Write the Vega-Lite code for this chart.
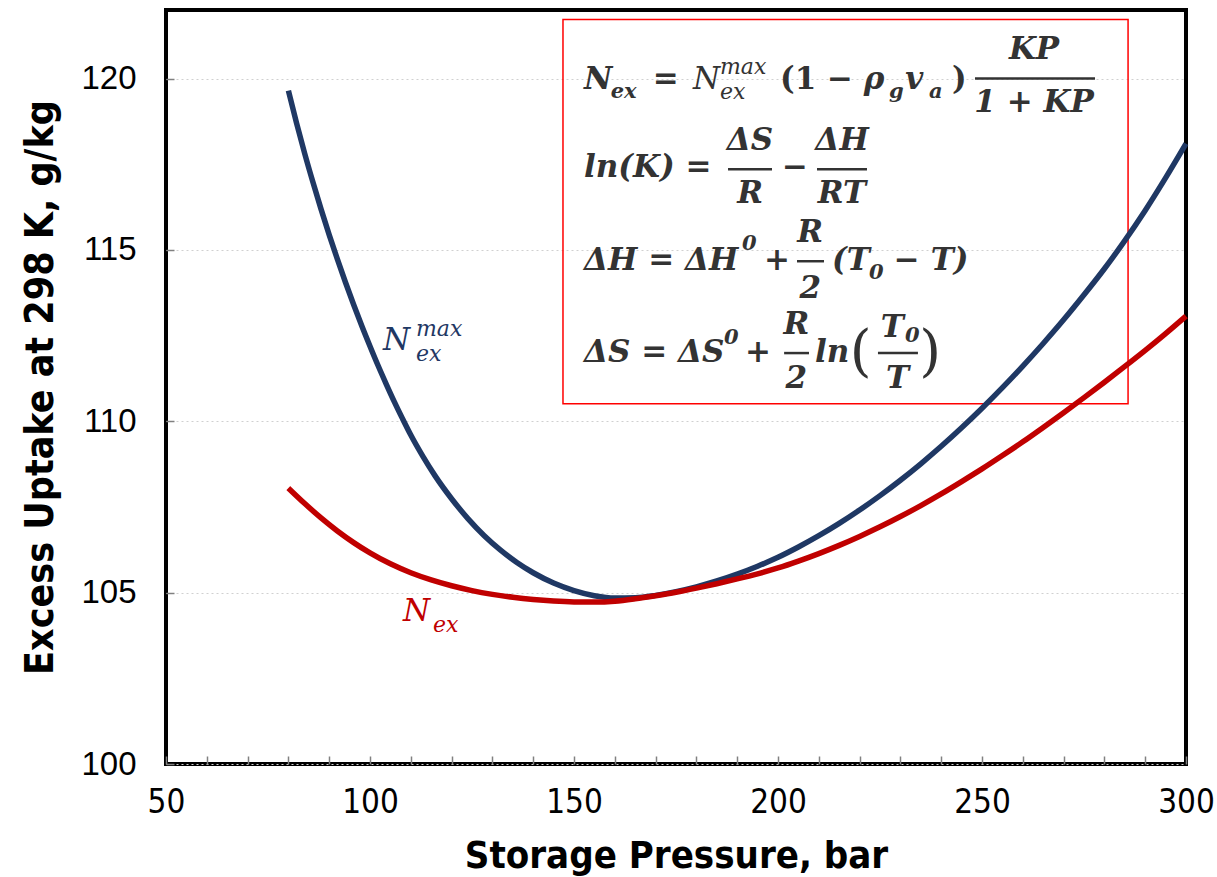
{
  "$schema": "https://vega.github.io/schema/vega-lite/v6.json",
  "width": 1020,
  "height": 754,
  "autosize": {"type": "none"},
  "padding": {"left": 166, "top": 10, "right": 31, "bottom": 113},
  "background": "white",
  "config": {
    "view": {"stroke": "#000000", "strokeWidth": 4},
    "axis": {"domain": false}
  },
  "encoding": {
    "x": {
      "field": "x", "type": "quantitative",
      "scale": {"domain": [50, 300], "nice": false, "zero": false},
      "axis": {
        "title": "Storage Pressure, bar",
        "values": [50,60,70,80,90,100,110,120,130,140,150,160,170,180,190,200,210,220,230,240,250,260,270,280,290,300],
        "labelExpr": "datum.value % 50 === 0 ? datum.label : ''",
        "tickSize": -8, "tickColor": "#808080", "tickWidth": 1.5,
        "labelFont": "DejaVu Sans Condensed, Liberation Sans Narrow, Liberation Sans", "labelFontSize": 33, "labelColor": "#000",
        "labelPadding": 30, "labelFlush": false, "labelOverlap": false,
        "titleFont": "DejaVu Sans Condensed, Liberation Sans Narrow, Liberation Sans", "titleFontSize": 38, "titleFontWeight": "bold", "titleColor": "#000",
        "titlePadding": 18, "grid": false
      }
    },
    "y": {
      "field": "y", "type": "quantitative",
      "scale": {"domain": [100, 122], "nice": false, "zero": false},
      "axis": {
        "title": "Excess Uptake at 298 K, g/kg",
        "values": [100, 105, 110, 115, 120],
        "tickSize": -8, "tickColor": "#808080", "tickWidth": 1.5,
        "labelFont": "Liberation Sans, Arial", "labelFontSize": 33, "labelColor": "#000",
        "labelPadding": 38, "labelFlush": false,
        "titleFont": "DejaVu Sans Condensed, Liberation Sans Narrow, Liberation Sans", "titleFontSize": 39, "titleFontWeight": "bold", "titleColor": "#000",
        "titlePadding": 20,
        "grid": true, "gridDash": [2, 3], "gridColor": "#d0d0d0", "gridWidth": 1
      }
    }
  },
  "layer": [
    {
      "data": {"values": [{"x": 147.3, "x2": 285.8, "y": 121.72, "y2": 110.51}]},
      "mark": {"type": "rect", "fill": "white", "fillOpacity": 0, "stroke": "#FF0000", "strokeWidth": 1.5},
      "encoding": {"x2": {"field": "x2"}, "y2": {"field": "y2"}}
    },
    {
      "data": {"values": [
        {"series": "Nmax", "x": 80, "y": 119.65}, {"series": "Nmax", "x": 82, "y": 118.70}, {"series": "Nmax", "x": 84, "y": 117.81},
        {"series": "Nmax", "x": 86, "y": 116.98}, {"series": "Nmax", "x": 88, "y": 116.19}, {"series": "Nmax", "x": 90, "y": 115.44},
        {"series": "Nmax", "x": 92, "y": 114.73}, {"series": "Nmax", "x": 94, "y": 114.05}, {"series": "Nmax", "x": 96, "y": 113.40},
        {"series": "Nmax", "x": 98, "y": 112.78}, {"series": "Nmax", "x": 100, "y": 112.19}, {"series": "Nmax", "x": 102, "y": 111.62},
        {"series": "Nmax", "x": 104, "y": 111.08}, {"series": "Nmax", "x": 106, "y": 110.56}, {"series": "Nmax", "x": 108, "y": 110.07},
        {"series": "Nmax", "x": 110, "y": 109.60}, {"series": "Nmax", "x": 113, "y": 108.97}, {"series": "Nmax", "x": 116, "y": 108.40},
        {"series": "Nmax", "x": 120, "y": 107.74}, {"series": "Nmax", "x": 124, "y": 107.16}, {"series": "Nmax", "x": 128, "y": 106.66},
        {"series": "Nmax", "x": 132, "y": 106.24}, {"series": "Nmax", "x": 136, "y": 105.88}, {"series": "Nmax", "x": 140, "y": 105.58},
        {"series": "Nmax", "x": 145, "y": 105.28}, {"series": "Nmax", "x": 150, "y": 105.06}, {"series": "Nmax", "x": 155, "y": 104.91},
        {"series": "Nmax", "x": 160, "y": 104.84}, {"series": "Nmax", "x": 165, "y": 104.85}, {"series": "Nmax", "x": 170, "y": 104.92},
        {"series": "Nmax", "x": 175, "y": 105.03}, {"series": "Nmax", "x": 180, "y": 105.17}, {"series": "Nmax", "x": 185, "y": 105.34},
        {"series": "Nmax", "x": 190, "y": 105.54}, {"series": "Nmax", "x": 195, "y": 105.77}, {"series": "Nmax", "x": 200, "y": 106.03},
        {"series": "Nmax", "x": 205, "y": 106.33}, {"series": "Nmax", "x": 210, "y": 106.66}, {"series": "Nmax", "x": 215, "y": 107.02},
        {"series": "Nmax", "x": 220, "y": 107.41}, {"series": "Nmax", "x": 225, "y": 107.83}, {"series": "Nmax", "x": 230, "y": 108.28},
        {"series": "Nmax", "x": 235, "y": 108.76}, {"series": "Nmax", "x": 240, "y": 109.27}, {"series": "Nmax", "x": 245, "y": 109.81},
        {"series": "Nmax", "x": 250, "y": 110.38}, {"series": "Nmax", "x": 255, "y": 110.98}, {"series": "Nmax", "x": 260, "y": 111.61},
        {"series": "Nmax", "x": 265, "y": 112.27}, {"series": "Nmax", "x": 270, "y": 112.96}, {"series": "Nmax", "x": 275, "y": 113.69},
        {"series": "Nmax", "x": 280, "y": 114.45}, {"series": "Nmax", "x": 285, "y": 115.27}, {"series": "Nmax", "x": 290, "y": 116.15},
        {"series": "Nmax", "x": 295, "y": 117.1}, {"series": "Nmax", "x": 300, "y": 118.1},
        {"series": "N", "x": 80, "y": 108.05}, {"series": "N", "x": 84, "y": 107.6}, {"series": "N", "x": 88, "y": 107.18},
        {"series": "N", "x": 92, "y": 106.8}, {"series": "N", "x": 96, "y": 106.46}, {"series": "N", "x": 100, "y": 106.16},
        {"series": "N", "x": 105, "y": 105.84}, {"series": "N", "x": 110, "y": 105.58}, {"series": "N", "x": 115, "y": 105.37},
        {"series": "N", "x": 120, "y": 105.2}, {"series": "N", "x": 125, "y": 105.06}, {"series": "N", "x": 130, "y": 104.95},
        {"series": "N", "x": 135, "y": 104.865}, {"series": "N", "x": 140, "y": 104.8}, {"series": "N", "x": 145, "y": 104.755},
        {"series": "N", "x": 150, "y": 104.73}, {"series": "N", "x": 155, "y": 104.725}, {"series": "N", "x": 160, "y": 104.75},
        {"series": "N", "x": 165, "y": 104.82}, {"series": "N", "x": 170, "y": 104.91}, {"series": "N", "x": 175, "y": 105.01},
        {"series": "N", "x": 180, "y": 105.13}, {"series": "N", "x": 185, "y": 105.26}, {"series": "N", "x": 190, "y": 105.4},
        {"series": "N", "x": 195, "y": 105.55}, {"series": "N", "x": 200, "y": 105.72}, {"series": "N", "x": 205, "y": 105.92},
        {"series": "N", "x": 210, "y": 106.14}, {"series": "N", "x": 215, "y": 106.38}, {"series": "N", "x": 220, "y": 106.64},
        {"series": "N", "x": 225, "y": 106.92}, {"series": "N", "x": 230, "y": 107.22}, {"series": "N", "x": 235, "y": 107.54},
        {"series": "N", "x": 240, "y": 107.88}, {"series": "N", "x": 245, "y": 108.24}, {"series": "N", "x": 250, "y": 108.61},
        {"series": "N", "x": 255, "y": 109.0}, {"series": "N", "x": 260, "y": 109.4}, {"series": "N", "x": 265, "y": 109.82},
        {"series": "N", "x": 270, "y": 110.25}, {"series": "N", "x": 275, "y": 110.69}, {"series": "N", "x": 280, "y": 111.14},
        {"series": "N", "x": 285, "y": 111.6}, {"series": "N", "x": 290, "y": 112.07}, {"series": "N", "x": 295, "y": 112.56},
        {"series": "N", "x": 300, "y": 113.07}
      ]},
      "mark": {"type": "line", "strokeWidth": 5.5, "interpolate": "monotone"},
      "encoding": {
        "color": {"field": "series", "type": "nominal", "scale": {"domain": ["Nmax", "N"], "range": ["#1F3864", "#C00000"]}, "legend": null}
      }
    },
    {
      "data": {"values": [
        {"x": 248.28, "x2": 277.7, "y": 120.0},
        {"x": 187.75, "x2": 198.53, "y": 117.35},
        {"x": 209.56, "x2": 221.81, "y": 117.35},
        {"x": 204.66, "x2": 211.27, "y": 114.67},
        {"x": 201.5, "x2": 207.6, "y": 111.99},
        {"x": 224.5, "x2": 234.3, "y": 111.99}
      ]},
      "mark": {"type": "rule", "color": "#333333", "strokeWidth": 2.5},
      "encoding": {"x2": {"field": "x2"}}
    },
    {
      "data": {"values": [
        {"t": "N", "x": 152.45, "y": 119.97},
        {"t": "=", "x": 169.3, "y": 119.97},
        {"t": "ρ", "x": 221.0, "y": 119.97},
        {"t": "v", "x": 231.2, "y": 119.97},
        {"t": "ln(K) =", "x": 152.45, "y": 117.38},
        {"t": "ΔH = ΔH", "x": 152.45, "y": 114.67},
        {"t": "(T", "x": 213.24, "y": 114.67},
        {"t": "− T)", "x": 228.4, "y": 114.67},
        {"t": "ΔS = ΔS", "x": 152.45, "y": 111.99},
        {"t": "ln", "x": 209.07, "y": 111.99}
      ]},
      "mark": {"type": "text", "font": "DejaVu Serif", "fontSize": 31, "fontWeight": "bold", "fontStyle": "italic", "align": "left", "baseline": "middle", "color": "#333333"},
      "encoding": {"text": {"field": "t"}}
    },
    {
      "data": {"values": [
        {"t": "KP", "x": 262.75, "y": 120.84},
        {"t": "1 + KP", "x": 262.75, "y": 119.3},
        {"t": "ΔS", "x": 193.14, "y": 118.17},
        {"t": "R", "x": 193.14, "y": 116.62},
        {"t": "ΔH", "x": 215.69, "y": 118.17},
        {"t": "RT", "x": 215.69, "y": 116.62},
        {"t": "R", "x": 207.9, "y": 115.49},
        {"t": "2", "x": 207.9, "y": 113.86},
        {"t": "R", "x": 204.5, "y": 112.8},
        {"t": "2", "x": 204.5, "y": 111.22},
        {"t": "T", "x": 228.0, "y": 112.72},
        {"t": "T", "x": 229.3, "y": 111.24}
      ]},
      "mark": {"type": "text", "font": "DejaVu Serif", "fontSize": 31, "fontWeight": "bold", "fontStyle": "italic", "align": "center", "baseline": "middle", "color": "#333333"},
      "encoding": {"text": {"field": "t"}}
    },
    {
      "data": {"values": [
        {"t": "ex", "x": 159.0, "y": 119.62},
        {"t": "g", "x": 227.2, "y": 119.6},
        {"t": "a", "x": 237.0, "y": 119.62},
        {"t": "0", "x": 191.18, "y": 115.17},
        {"t": "0", "x": 222.3, "y": 114.32},
        {"t": "0", "x": 186.76, "y": 112.43},
        {"t": "0", "x": 231.13, "y": 112.49}
      ]},
      "mark": {"type": "text", "font": "DejaVu Serif", "fontSize": 21, "fontWeight": "bold", "fontStyle": "italic", "align": "left", "baseline": "middle", "color": "#333333"},
      "encoding": {"text": {"field": "t"}}
    },
    {
      "data": {"values": [
        {"t": "(1 −", "x": 200.49, "y": 119.97},
        {"t": ")", "x": 242.65, "y": 119.97},
        {"t": "−", "x": 200.98, "y": 117.38},
        {"t": "+", "x": 196.57, "y": 114.67},
        {"t": "+", "x": 191.91, "y": 111.99}
      ]},
      "mark": {"type": "text", "font": "DejaVu Serif", "fontSize": 31, "fontWeight": "bold", "align": "left", "baseline": "middle", "color": "#333333"},
      "encoding": {"text": {"field": "t"}}
    },
    {
      "data": {"values": [
        {"t": "(", "x": 217.6, "y": 111.99},
        {"t": ")", "x": 234.6, "y": 111.99}
      ]},
      "mark": {"type": "text", "font": "DejaVu Serif", "fontSize": 56, "align": "left", "baseline": "middle", "color": "#333333"},
      "encoding": {"text": {"field": "t"}}
    },
    {
      "data": {"values": [
        {"t": "N", "x": 179.17, "y": 119.97}
      ]},
      "mark": {"type": "text", "font": "DejaVu Serif", "fontSize": 31, "fontStyle": "italic", "align": "left", "baseline": "middle", "color": "#333333"},
      "encoding": {"text": {"field": "t"}}
    },
    {
      "data": {"values": [
        {"t": "max", "x": 185.78, "y": 120.35},
        {"t": "ex", "x": 185.78, "y": 119.62}
      ]},
      "mark": {"type": "text", "font": "DejaVu Serif", "fontSize": 22, "fontStyle": "italic", "align": "left", "baseline": "middle", "color": "#333333"},
      "encoding": {"text": {"field": "t"}}
    },
    {
      "data": {"values": [
        {"t": "N", "x": 103.19, "y": 112.34, "c": "Nmax"},
        {"t": "N", "x": 108.09, "y": 104.43, "c": "N"}
      ]},
      "mark": {"type": "text", "font": "DejaVu Serif", "fontSize": 31, "fontStyle": "italic", "align": "left", "baseline": "middle"},
      "encoding": {"text": {"field": "t"}, "color": {"field": "c", "type": "nominal", "legend": null}}
    },
    {
      "data": {"values": [
        {"t": "max", "x": 111.27, "y": 112.69, "c": "Nmax"},
        {"t": "ex", "x": 111.27, "y": 111.97, "c": "Nmax"},
        {"t": "ex", "x": 115.44, "y": 104.05, "c": "N"}
      ]},
      "mark": {"type": "text", "font": "DejaVu Serif", "fontSize": 22, "fontStyle": "italic", "align": "left", "baseline": "middle"},
      "encoding": {"text": {"field": "t"}, "color": {"field": "c", "type": "nominal", "legend": null}}
    }
  ]
}
